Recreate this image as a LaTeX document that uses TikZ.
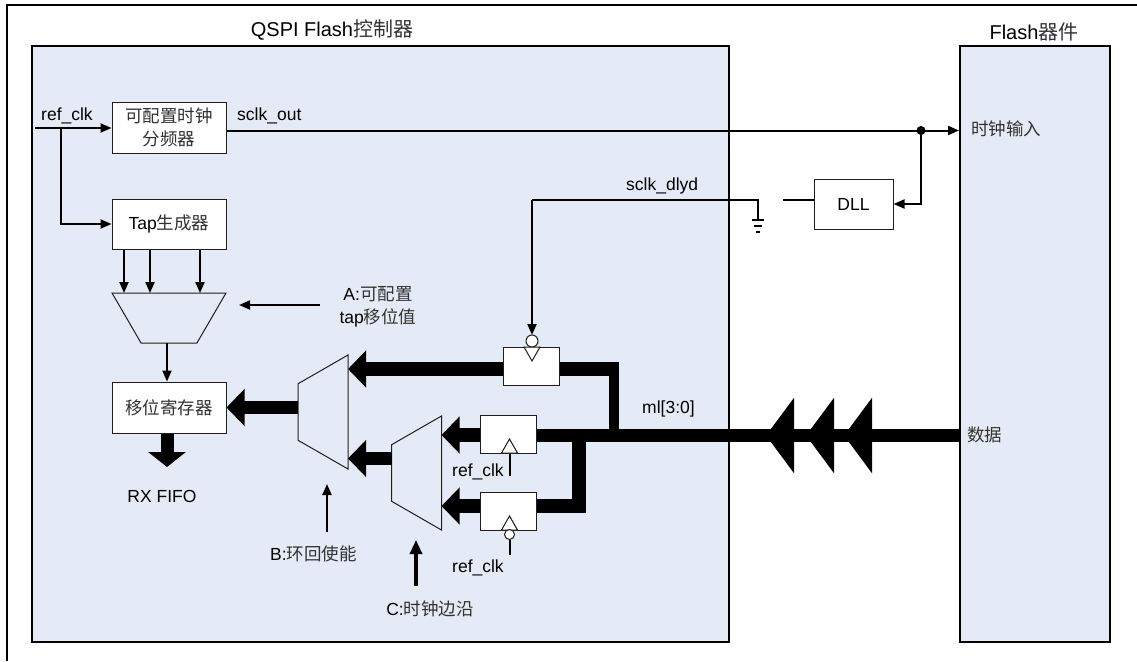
\documentclass[tikz,border=0pt]{standalone}
\usepackage{fontspec}
\setmainfont{Liberation Sans}
\newfontfamily\cjk{Noto Sans CJK SC}
\usetikzlibrary{arrows.meta,shapes.geometric,calc}
\definecolor{QfPanel}{RGB}{228,235,246}
\definecolor{QfEdge}{RGB}{30,30,30}
\definecolor{QfCjk}{RGB}{50,50,50}
\newcommand{\zh}[1]{{\cjk\color{QfCjk}#1}}
\tikzset{
  qf/panel/.style={
    draw=black,
    line width=1.6pt,
    fill=QfPanel,
    inner sep=0pt
  },
  qf/box/.style={
    draw=QfEdge,
    line width=1pt,
    fill=white,
    align=center,
    inner sep=0pt,
    font=\fontsize{17.5}{23}\selectfont
  },
  qf/mux/.style={
    trapezium,
    trapezium stretches=true,
    draw=QfEdge,
    line width=1pt,
    fill=QfPanel,
    inner sep=1pt,
    outer sep=0pt
  },
  qf/clk/.style={
    isosceles triangle,
    isosceles triangle stretches,
    draw=QfEdge,
    line width=1pt,
    fill=white,
    inner sep=1pt,
    outer sep=0pt,
    minimum width=16pt,
    minimum height=14pt
  },
  qf/bubble/.style={circle, draw=QfEdge, line width=1pt, fill=white, inner sep=0pt, outer sep=0pt},
  qf/label/.style={inner sep=0pt, align=center, text=black, font=\fontsize{17.5}{23}\selectfont},
  qf/title/.style={inner sep=0pt, align=center, text=black, font=\fontsize{20}{24}\selectfont},
  qf/wire/.style={line width=2pt, draw=black},
  qf/arrow/.style={-{Triangle[length=11pt,width=9pt]}, line width=2pt, draw=black},
  qf/bus/.style={line width=13.5pt, draw=black},
  qf/busarrow/.style={-{Triangle[length=18pt,width=36pt]}, line width=13.5pt, draw=black},
  qf/bustip/.style={-{Triangle[length=28pt,width=74pt]}, line width=13.5pt, draw=black}
}
\begin{document}
\begin{tikzpicture}[x=1pt,y=-1pt]
  \useasboundingbox (0,0) rectangle (1137,661);
  \coordinate (framee) at (1137,5);
  \coordinate (framec) at (7,5);
  \coordinate (frames) at (7,661);
  \draw[line width=2pt] (framee) -- (framec) -- (frames);

  \node[qf/panel,minimum width=697pt,minimum height=596pt] (ctrl) at (380.5,344) {};
  \node[qf/panel,minimum width=150pt,minimum height=596pt] (flash) at (1035,344) {};
  \node[qf/title] (ctrltitle) at (332,30) {QSPI Flash\zh{控制器}};
  \node[qf/title] (flashtitle) at (1034,32) {Flash\zh{器件}};

  % blocks
  \node[qf/box,minimum width=114pt,minimum height=51pt] (divider) at (169,127.5) {\zh{可配置时钟}\\\zh{分频器}};
  \node[qf/box,minimum width=114pt,minimum height=50pt] (tapgen) at (169,224) {Tap\zh{生成器}};
  \node[qf/box,minimum width=114pt,minimum height=51pt] (shiftreg) at (169,407.5) {\zh{移位寄存器}};
  \node[qf/box,minimum width=79pt,minimum height=50pt] (dll) at (853.5,204) {DLL};
  \node[qf/box,minimum width=56pt,minimum height=38pt] (fftop) at (531,366) {};
  \node[qf/box,minimum width=56pt,minimum height=38pt] (ffmid) at (508.5,434) {};
  \node[qf/box,minimum width=56pt,minimum height=38pt] (ffbot) at (508.5,511) {};

  % muxes
  \node[qf/mux,shape border rotate=180,trapezium left angle=62.5,trapezium right angle=62.5,minimum width=114pt,minimum height=50pt] (tapmux) at (169,318) {};
  \node[qf/mux,shape border rotate=90,trapezium left angle=63,trapezium right angle=63,minimum width=114pt,minimum height=50pt] (muxa) at (323,412) {};
  \node[qf/mux,shape border rotate=90,trapezium left angle=63,trapezium right angle=63,minimum width=114pt,minimum height=50pt] (muxb) at (416.5,473) {};

  % labels
  \node[qf/label,anchor=base west] (refclk) at (41,120) {ref\_clk};
  \node[qf/label,anchor=base west] (sclkout) at (237,120) {sclk\_out};
  \node[qf/label,anchor=base west] (sclkdlyd) at (626,190) {sclk\_dlyd};
  \node[qf/label,anchor=base west] (mlbus) at (642,413) {ml[3:0]};
  \node[qf/label,anchor=base west] (refclkmid) at (452,476) {ref\_clk};
  \node[qf/label,anchor=base west] (refclkbot) at (452,572) {ref\_clk};
  \node[qf/label] (rxfifo) at (162,496) {RX FIFO};
  \node[qf/label] (labela) at (378,307) {A:\zh{可配置}\\tap\zh{移位值}};
  \node[qf/label] (labelb) at (313.5,554) {B:\zh{环回使能}};
  \node[qf/label] (labelc) at (430,609) {C:\zh{时钟边沿}};
  \node[qf/label,anchor=west] (clkin) at (971,129) {\zh{时钟输入}};
  \node[qf/label,anchor=west] (dataport) at (967,435) {\zh{数据}};

  % free ends
  \coordinate (refin) at (35,128);
  \coordinate (refsplit) at (61,128);
  \coordinate (clkdot) at (921,130.5);
  \coordinate (clkport) at (959,130.5);
  \coordinate (dlyturn) at (532,200);
  \coordinate (gnd) at (758,220);
  \coordinate (dllstub) at (783,200);
  \coordinate (busin) at (960,435.5);
  \coordinate (topjoin) at (614,369);
  \coordinate (botjoin) at (579,435.5);
  \coordinate (rxtip) at (167,467);
  \coordinate (atail) at (320,305);
  \coordinate (ahead) at (239,305);
  \coordinate (btail) at (327,532);
  \coordinate (bhead) at (327,484);
  \coordinate (ctail) at (416,586);
  \coordinate (chead) at (416,540);
  \coordinate (midstub) at (509.5,476);
  \coordinate (botstub) at (509.5,555);

  % clock wires
  \draw[qf/arrow] (refin) -- (refin -| divider.west);
  \draw[qf/arrow] (refsplit) |- (tapgen.west);
  \draw[qf/wire] (clkport -| divider.east) -- (clkdot);
  \draw[qf/arrow] (clkdot) -- (clkport);
  \fill (clkdot) circle (4.5pt);
  \draw[qf/arrow] (clkdot) |- (dll.east);
  \draw[qf/wire] (dllstub) -- (dllstub -| dll.west);
  \draw[qf/wire] (gnd) |- (dlyturn);
  \draw[qf/wire] ($(gnd)+(-6,0)$) -- ($(gnd)+(6,0)$);
  \draw[qf/wire] ($(gnd)+(-4,6)$) -- ($(gnd)+(4,6)$);
  \draw[qf/wire] ($(gnd)+(-2,12)$) -- ($(gnd)+(2,12)$);

  % tap paths
  \draw[qf/arrow] ([xshift=-45pt]tapgen.south) -- ([xshift=-45pt]tapmux.bottom side);
  \draw[qf/arrow] ([xshift=-19pt]tapgen.south) -- ([xshift=-19pt]tapmux.bottom side);
  \draw[qf/arrow] ([xshift=31pt]tapgen.south) -- ([xshift=31pt]tapmux.bottom side);
  \draw[qf/arrow] ([xshift=-2pt]tapmux.top side) -- ([xshift=-2pt]tapmux.top side |- shiftreg.north);
  \draw[qf/arrow] (atail) -- (ahead);
  \draw[qf/arrow] (btail) -- (bhead);
  \draw[-{Triangle[length=14pt,width=12pt]},line width=3.2pt] (ctail) -- (chead);

  % data paths
  \draw[qf/bus] (busin) -- (busin -| ffmid.east);
  \foreach \tipx in {766,806,844} {
    \draw[qf/bustip] (\tipx+29,435.5) -- (\tipx,435.5);
  }
  \draw[qf/bus] (topjoin -| fftop.east) -- ($(topjoin)+(5,0)$);
  \draw[line width=10pt] ($(topjoin)+(0,-7)$) -- ($(topjoin)+(0,61)$);
  \draw[qf/bus] (botjoin) |- ([yshift=5pt]ffbot.east);
  \draw[qf/busarrow] (topjoin -| fftop.west) -- (topjoin -| muxa.bottom side);
  \draw[qf/busarrow] ([yshift=-1pt]ffmid.west) -- ([yshift=-1pt]ffmid.west -| muxb.bottom side);
  \draw[qf/busarrow] ([yshift=5pt]ffbot.west) -- ([yshift=5pt]ffbot.west -| muxb.bottom side);
  \draw[qf/busarrow] ([yshift=14.5pt]muxb.top side) -- ([yshift=14.5pt]muxb.top side -| muxa.bottom side);
  \draw[qf/busarrow] (muxa.top side |- shiftreg.east) -- (shiftreg.east);
  \draw[-{Triangle[length=15pt,width=37pt]},line width=13pt] (shiftreg.south -| rxtip) -- (rxtip);

  % clock pins on the registers
  \node[qf/clk,shape border rotate=270,anchor=apex] (clktop) at (532,361) {};
  \node[qf/bubble,minimum size=12pt] (bubtop) at (532,341) {};
  \node[qf/clk,shape border rotate=90,anchor=apex] (clkmid) at (509.5,439) {};
  \node[qf/clk,shape border rotate=90,anchor=apex] (clkbot) at (509.5,516) {};
  \node[qf/bubble,minimum size=10pt] (bubbot) at (509.5,534.5) {};
  \draw[qf/arrow] (dlyturn) -- (bubtop.north);
  \draw[qf/wire] (clkmid.center |- ffmid.south) -- (midstub);
  \draw[qf/wire] (bubbot.south) -- (botstub);
\end{tikzpicture}
\end{document}
